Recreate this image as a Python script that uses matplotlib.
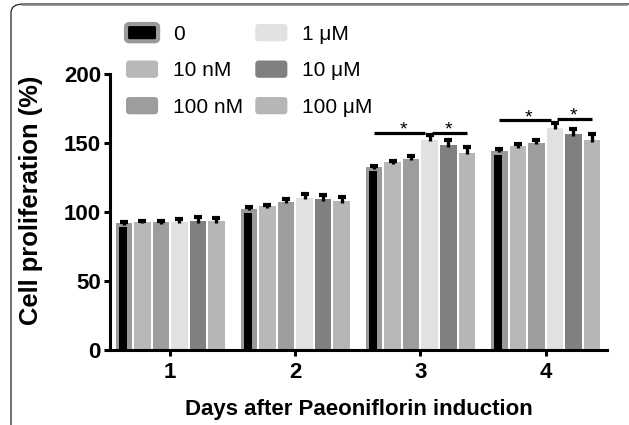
import matplotlib
matplotlib.use("Agg")
import matplotlib.pyplot as plt
import numpy as np
from matplotlib.patches import Patch, FancyBboxPatch
from matplotlib.legend_handler import HandlerPatch
from matplotlib.lines import Line2D

# ---------------- data ----------------
days = ["1", "2", "3", "4"]
doses = ["0", "10 nM", "100 nM", "1 μM", "10 μM", "100 μM"]
vals_0 = [92.0, 102.5, 132.5, 144.5]
vals_10nM = [93.0, 104.3, 136.0, 147.6]
vals_100nM = [92.5, 107.6, 138.6, 150.3]
vals_1uM = [93.0, 110.3, 152.5, 161.0]
vals_10uM = [93.5, 109.3, 148.4, 156.4]
vals_100uM = [93.5, 108.0, 143.0, 152.0]
err_0 = [1.0, 0.8, 0.8, 1.0]
err_10nM = [0.8, 0.6, 0.8, 1.8]
err_100nM = [1.2, 1.5, 1.8, 1.8]
err_1uM = [2.0, 3.0, 3.5, 3.5]
err_10uM = [3.2, 3.2, 4.0, 4.0]
err_100uM = [2.5, 3.2, 4.0, 4.3]
# significance comparisons: (day index, from dose, to dose, bar height)
sig_day = [2, 2, 3, 3]
sig_from = [0, 3, 0, 3]
sig_to = [3, 5, 3, 5]
sig_y = [157.5, 157.5, 166.5, 167.3]
yticks = [0, 50, 100, 150, 200]

values = [vals_0, vals_10nM, vals_100nM, vals_1uM, vals_10uM, vals_100uM]
errors = [err_0, err_10nM, err_100nM, err_1uM, err_10uM, err_100uM]
colors = ["#9a9a9a", "#b8b8b8", "#9d9d9d", "#e0e1e0", "#808080", "#b6b6b6"]

plt.rcParams["font.family"] = ["Liberation Sans", "DejaVu Sans"]

fig = plt.figure(figsize=(6.29, 4.25), dpi=100)
W, H = 629, 425
ax = fig.add_axes([110 / W, 1 - 350 / H, (607 - 110) / W, (350 - 74) / H])

x = np.arange(1, len(days) + 1)
slot = 0.148
bw = 0.132
n = len(doses)
cap = 0.032
for k in range(n):
    xs = x + (k - (n - 1) / 2) * slot
    v = np.array(values[k])
    e = np.array(errors[k])
    ax.bar(xs, v, width=bw, color=colors[k], edgecolor="none", zorder=2)
    if k == 0:
        ax.bar(xs - 0.008, v - 3.0, width=0.064,
               color="black", edgecolor="none", zorder=3)
    # upper-only error bars (T shape)
    ax.vlines(xs, v - 1.2, v + e, color="black", lw=2.4, zorder=4)
    ax.hlines(v + e, xs - cap, xs + cap, color="black", lw=3.0, zorder=4)

# significance bars
for d, a, b, yv in zip(sig_day, sig_from, sig_to, sig_y):
    xa = x[d] + (a - (n - 1) / 2) * slot
    xb = x[d] + (b - (n - 1) / 2) * slot
    if a == 0:
        xb -= 0.035
    else:
        xa += 0.02
    ax.plot([xa, xb], [yv, yv], color="black", lw=2.3, solid_capstyle="butt",
            zorder=5, clip_on=False)
    ax.text((xa + xb) / 2 + (0.03 if a == 0 else -0.01), yv + 2.0, "*",
            ha="center", va="center", fontsize=14, zorder=5)

ax.set_xlim(0.52, 4.49)
ax.set_ylim(0, 200)
ax.set_yticks(yticks)
ax.set_xticks(x)
ax.set_xticklabels(days)
for s in ["top", "right"]:
    ax.spines[s].set_visible(False)
for s in ["left", "bottom"]:
    ax.spines[s].set_linewidth(2.2)
ax.tick_params(axis="both", width=2.2, length=4.5, labelsize=16)
ax.tick_params(axis="y", pad=2)
ax.tick_params(axis="x", pad=4)
for lab in ax.get_xticklabels() + ax.get_yticklabels():
    lab.set_fontweight("bold")

ax.set_xlabel("Days after Paeoniflorin induction", fontsize=16,
              fontweight="bold", labelpad=12)
ax.set_ylabel("Cell proliferation (%)", fontsize=18.4, fontweight="bold",
              va="center")
ax.yaxis.set_label_coords(-0.159, 0.543)

# legend
def rounded(legend, orig_handle, xdescent, ydescent, width, height, fontsize):
    return FancyBboxPatch((-xdescent, -ydescent), width, height,
                          boxstyle="round,pad=0,rounding_size=2.5")

handles = []
for k in range(n):
    if k == 0:
        handles.append(Patch(facecolor="black", edgecolor=colors[0], linewidth=3))
    else:
        handles.append(Patch(facecolor=colors[k], edgecolor="none"))
leg = fig.legend(handles, doses, ncol=2, loc="upper left",
                 bbox_to_anchor=(126 / W, 1 - 24 / H), frameon=False,
                 fontsize=15, handlelength=1.54, handleheight=0.9,
                 handletextpad=0.72, columnspacing=0.58, labelspacing=0.8,
                 borderaxespad=0, borderpad=0,
                 handler_map={Patch: HandlerPatch(patch_func=rounded)})

# outer rounded frame
frame = FancyBboxPatch((11 / W, -0.2), 1.2, 0.2 + 1 - 4 / H,
                       boxstyle="round,pad=0,rounding_size=0.02",
                       transform=fig.transFigure, facecolor="none",
                       edgecolor="#222222", linewidth=0.9, clip_on=False)
fig.patches.append(frame)
fig.lines.append(Line2D([22 / W, 626 / W], [1 - 4 / H, 1 - 4 / H],
                        transform=fig.transFigure, color="#808080", lw=1.8))

fig.savefig("out.png", dpi=100)
